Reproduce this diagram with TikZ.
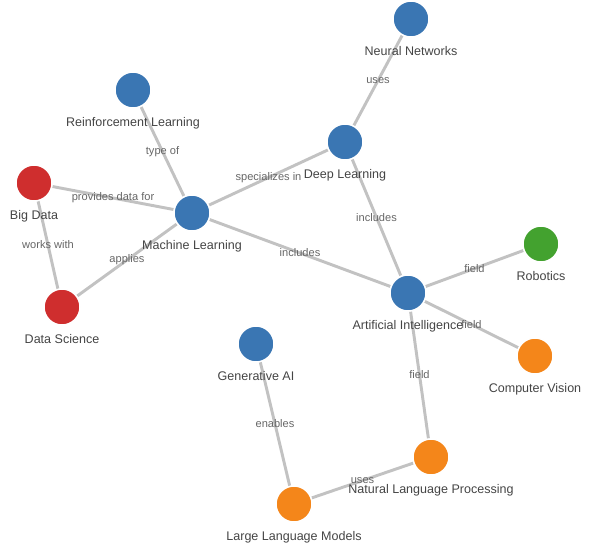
\documentclass[tikz,border=0pt]{standalone}
\usepackage{fontspec}
\setmainfont{Liberation Sans}
\usetikzlibrary{backgrounds}
\definecolor{topicblue}{HTML}{3A76B3}
\definecolor{topicred}{HTML}{CF2E2E}
\definecolor{topicgreen}{HTML}{43A22F}
\definecolor{topicorange}{HTML}{F4861A}
\definecolor{linkgray}{HTML}{C2C2C2}
\definecolor{labelgray}{HTML}{444444}
\definecolor{edgetext}{HTML}{666666}

\begin{document}
\begin{tikzpicture}[
    x=0.75pt, y=-0.75pt,
    every edge/.style={draw=linkgray, line width=2.2pt},
    topic/.style={circle, draw=white, line width=1.1pt, minimum size=27pt, inner sep=0pt,
        label={[text=labelgray, font=\fontsize{9.4}{10}\selectfont, label distance=3pt]below:#1}},
    rel/.style={midway, text=edgetext, font=\fontsize{8.3}{9}\selectfont, inner sep=0pt}
]
    \useasboundingbox (0,0) rectangle (600,550);

    \node[topic={Neural Networks}, fill=topicblue] (NN) at (411,19) {};
    \node[topic={Reinforcement Learning}, fill=topicblue] (RL) at (133,90) {};
    \node[topic={Deep Learning}, fill=topicblue] (DL) at (345,142) {};
    \node[topic={Big Data}, fill=topicred] (BD) at (34,183) {};
    \node[topic={Machine Learning}, fill=topicblue] (ML) at (192,213) {};
    \node[topic={Robotics}, fill=topicgreen] (ROB) at (541,244) {};
    \node[topic={Artificial Intelligence}, fill=topicblue] (AI) at (408,293) {};
    \node[topic={Data Science}, fill=topicred] (DS) at (62,307) {};
    \node[topic={Generative AI}, fill=topicblue] (GAI) at (256,344) {};
    \node[topic={Computer Vision}, fill=topicorange] (CV) at (535,356) {};
    \node[topic={Natural Language Processing}, fill=topicorange] (NLP) at (431,457) {};
    \node[topic={Large Language Models}, fill=topicorange] (LLM) at (294,504) {};

    \begin{pgfonlayer}{background}
    \path (NN) edge node[rel] {uses} (DL)
          (RL) edge node[rel] {type of} (ML)
          (ML) edge node[rel] {specializes in} (DL)
          (BD) edge node[rel] {provides data for} (ML)
          (BD) edge node[rel] {works with} (DS)
          (ML) edge node[rel] {applies} (DS)
          (ML) edge node[rel] {includes} (AI)
          (DL) edge node[rel] {includes} (AI);

    \path (AI) edge node[rel] {field} (ROB)
          (AI) edge node[rel] {field} (CV)
          (AI) edge node[rel] {field} (NLP);

    \path (GAI) edge node[rel] {enables} (LLM)
          (NLP) edge node[rel] {uses} (LLM);
    \end{pgfonlayer}
\end{tikzpicture}
\end{document}
